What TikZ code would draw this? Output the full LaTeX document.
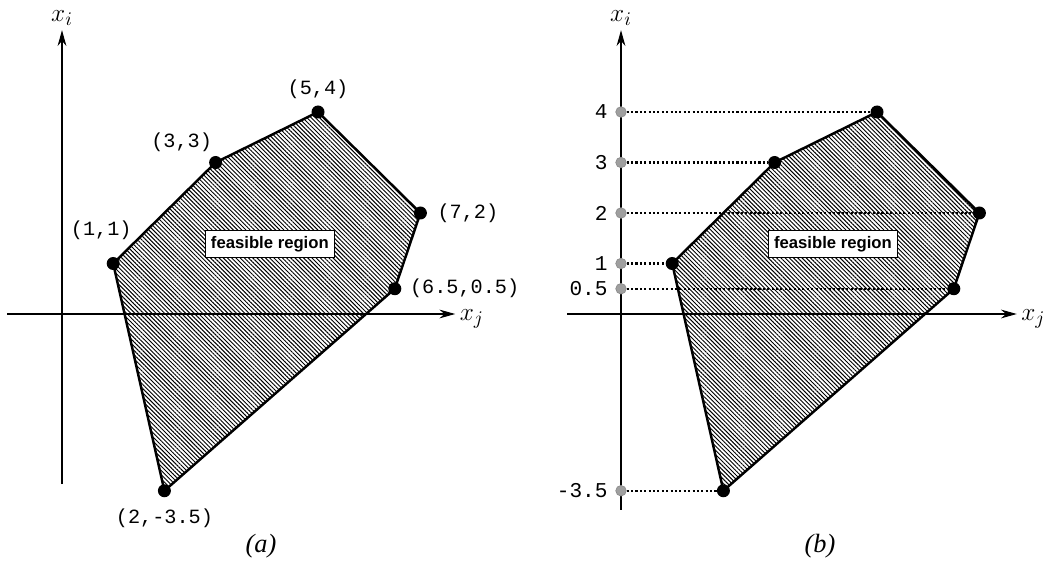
\documentclass[tikz,border=0pt]{standalone}
\usepackage{fontspec}
\setmainfont{Liberation Serif}
\setsansfont{Liberation Sans}
\setmonofont{Liberation Mono}
\usetikzlibrary{arrows.meta, positioning, patterns.meta}

\begin{document}
\begin{tikzpicture}[
      axis/.style={-{Stealth[length=9pt,width=5pt]}, semithick},
      region/.style={draw, line width=1.4pt, line join=round,
                     pattern={Lines[angle=-45,distance=1.7pt,line width=0.55pt]}},
      vertex/.style={circle, fill, inner sep=0pt, minimum size=0.26cm},
      tickdot/.style={circle, fill=gray!75, draw=gray!90, thin, inner sep=0pt, minimum size=0.21cm},
      coordlbl/.style={font=\ttfamily\fontsize{11.5}{14}\selectfont, inner sep=0pt},
      ticklbl/.style={font=\ttfamily\fontsize{12}{14}\selectfont, inner sep=0pt},
      boxlbl/.style={draw, fill=white, thin, inner sep=3pt,
                     font=\sffamily\bfseries\fontsize{9.5}{11}\selectfont},
      axlbl/.style={font=\fontsize{15}{18}\selectfont, inner sep=1pt},
      guide/.style={line width=1.2pt, dash pattern=on 1.2pt off 1.3pt}]

    \useasboundingbox (0,0) rectangle (20.96,11.34);

    % (a): polygon with its corner points
    \begin{scope}[shift={(1.24,5.06)}, x=1.024cm, y=1.01cm]
      \coordinate (aW) at (-1.07,0);
      \coordinate (aE) at (7.68,0);
      \coordinate (aS) at (0,-3.37);
      \coordinate (aN) at (0,5.62);
      \draw[axis] (aW) -- (aE);
      \draw[axis] (aS) -- (aN);
      \node[axlbl, right=0.05cm of aE, yshift=-0.1cm] (ajl) {$x_j$};
      \node[axlbl, above=0.05cm of aN] (ail) {$x_i$};

      \coordinate (a1) at (1,1);
      \coordinate (a2) at (3,3);
      \coordinate (a3) at (5,4);
      \coordinate (a4) at (7,2);
      \coordinate (a5) at (6.5,0.5);
      \coordinate (a6) at (2,-3.5);
      \draw[region] (a1) -- (a2) -- (a3) -- (a4) -- (a5) -- (a6) -- cycle;
      \foreach \p in {a1,a2,a3,a4,a5,a6}
        \node[vertex] (\p d) at (\p) {};

      \node[boxlbl] (afr) at (4.06,1.39) {feasible region};

      \node[coordlbl, above=0.34cm of a1d, xshift=-0.24cm] (a1l) {(1,1)};
      \node[coordlbl, above=0.08cm of a2d, xshift=-0.68cm] (a2l) {(3,3)};
      \node[coordlbl, above=0.12cm of a3d] (a3l) {(5,4)};
      \node[coordlbl, right=0.2cm of a4d] (a4l) {(7,2)};
      \node[coordlbl, right=0.16cm of a5d] (a5l) {(6.5,0.5)};
      \node[coordlbl, below=0.22cm of a6d] (a6l) {(2,-3.5)};
    \end{scope}

    % (b): same polygon, projections onto x_i
    \begin{scope}[shift={(12.42,5.06)}, x=1.024cm, y=1.01cm]
      \coordinate (bW) at (-1.05,0);
      \coordinate (bE) at (7.73,0);
      \coordinate (bS) at (0,-3.88);
      \coordinate (bN) at (0,5.62);
      \draw[axis] (bW) -- (bE);
      \draw[axis] (bS) -- (bN);
      \node[axlbl, right=0.05cm of bE, yshift=-0.1cm] (bjl) {$x_j$};
      \node[axlbl, above=0.05cm of bN] (bil) {$x_i$};

      \coordinate (b1) at (1,1);
      \coordinate (b2) at (3,3);
      \coordinate (b3) at (5,4);
      \coordinate (b4) at (7,2);
      \coordinate (b5) at (6.5,0.5);
      \coordinate (b6) at (2,-3.5);
      \draw[region] (b1) -- (b2) -- (b3) -- (b4) -- (b5) -- (b6) -- cycle;

      \node[boxlbl] (bfr) at (4.14,1.39) {feasible region};

      \foreach \p/\v/\t in {b1/1/1, b2/3/3, b3/4/4, b4/2/2, b5/0.5/0.5, b6/-3.5/-3.5} {
        \node[vertex] (\p d) at (\p) {};
        \node[tickdot] (\p t) at (0,\v) {};
        \node[ticklbl, left=0.15cm of \p t] (\p l) {\t};
        \draw[guide] (\p t) -- (\p d);
      }
    \end{scope}

    \node[font=\itshape\fontsize{15}{18}\selectfont] (capa) at (5.22,0.42) {(a)};
    \node[font=\itshape\fontsize{15}{18}\selectfont] (capb) at (16.4,0.42) {(b)};
\end{tikzpicture}
\end{document}
